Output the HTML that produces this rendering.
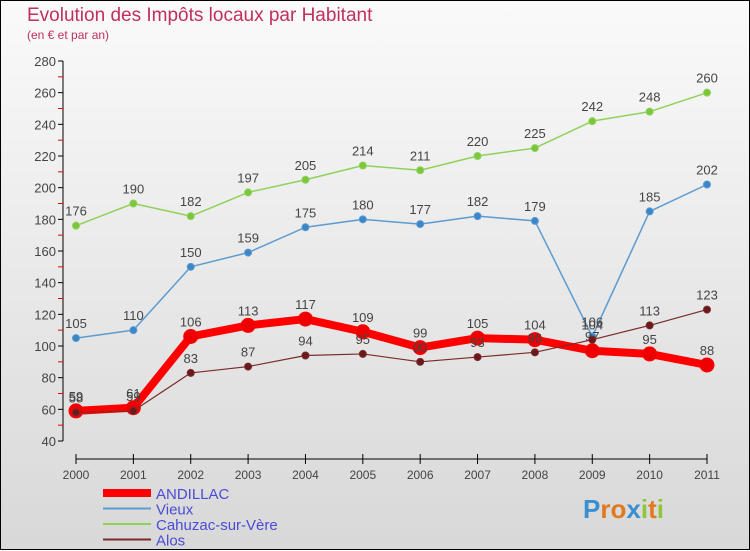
<!DOCTYPE html>
<html><head><meta charset="utf-8"><style>
body{margin:0;width:750px;height:550px;overflow:hidden;font-family:"Liberation Sans",sans-serif}
#frame{position:absolute;left:0;top:0;width:748px;height:548px;border:1px solid #000;background:linear-gradient(#fafafa,#d8d8d8)}
.t{position:absolute;color:#c0305a}
</style></head><body>
<div id="frame">
<div class="t" style="left:26px;top:4px;font-size:19px">Evolution des Impôts locaux par Habitant</div>
<div class="t" style="left:26px;top:27px;font-size:12px">(en € et par an)</div>
<svg id="c" width="750" height="550" style="position:absolute;left:0;top:0"></svg>
</div>
<script>
const years=[2000,2001,2002,2003,2004,2005,2006,2007,2008,2009,2010,2011];
const andillac=[59,61,106,113,117,109,99,105,104,97,95,88];
const vieux=[105,110,150,159,175,180,177,182,179,106,185,202];
const cahuzac=[176,190,182,197,205,214,211,220,225,242,248,260];
const alos=[58,59,83,87,94,95,90,93,96,104,113,123];
const yTicks=[40,60,80,100,120,140,160,180,200,220,240,260,280];
const seriesNames=["ANDILLAC","Vieux","Cahuzac-sur-Vère","Alos"];
const NS="http://www.w3.org/2000/svg",svg=document.getElementById('c');
const X=i=>75+i*(706-75)/(years.length-1);
const Y=v=>440-(v-40)*380/240;
function el(t,a,p){const e=document.createElementNS(NS,t);for(const k in a)e.setAttribute(k,a[k]);(p||svg).appendChild(e);return e;}
function tx(s,a){const e=el('text',a);e.textContent=s;return e;}
// y axis
let ax=el('line',{x1:62,y1:Y(280),x2:62,y2:Y(40),stroke:'#000'});

yTicks.forEach(v=>{el('line',{x1:57,x2:62,y1:Y(v),y2:Y(v),stroke:'#000'});
 if(v<280)el('line',{x1:57,x2:62,y1:Y(v+10),y2:Y(v+10),stroke:'#e00'});
 const t=tx(v,{x:55,y:Y(v)+5,'text-anchor':'end','font-size':13,fill:'#444'});
 });
// x axis
let xa=el('line',{x1:X(0),y1:458,x2:X(11),y2:458,stroke:'#000'});

years.forEach((yr,i)=>{el('line',{x1:X(i),x2:X(i),y1:453,y2:463,stroke:'#000'});
 const t=tx(yr,{x:X(i),y:478,'text-anchor':'middle','font-size':12,fill:'#444'});
 });
function series(d,col,w,r,pc,name){
 const g=el('g',{});
 el('polyline',{points:d.map((v,i)=>X(i)+','+Y(v)).join(' '),fill:'none',stroke:col,'stroke-width':w,'stroke-linejoin':'round'},g);
 d.forEach((v,i)=>{const c=el('circle',{cx:X(i),cy:Y(v),r:r,fill:pc,stroke:col,'stroke-width':1},g);
  
  const t=tx(v,{x:X(i),y:Y(v)-10,'text-anchor':'middle','font-size':13,fill:'#444'});
  });
}
series(cahuzac,'#8fd25a',1.5,3.5,'#7cc63c','series-cahuzac');
series(vieux,'#5b9bd0',1.5,3.5,'#3a86c8','series-vieux');
series(andillac,'#ff0000',8,7,'#ee0000','series-andillac');
series(alos,'#7a2a2a',1.2,3.5,'#6a1a1a','series-alos');
// legend
const lc=['#ff0000','#5b9bd0','#8fd25a','#7a2a2a'],lw=[8,2,2,2];
seriesNames.forEach((n,i)=>{const y=492+i*15.5;
 const l=el('line',{x1:102,x2:150,y1:y,y2:y,stroke:lc[i],'stroke-width':lw[i]});
 
 const t=tx(n,{x:155,y:y+6,'font-size':15,fill:'#4b4bd6'});
 });
const b=tx('',{x:582,y:517,'font-size':26,'font-weight':'bold'});
[['P','#3a8fd0'],['r','#e07a20'],['o','#e07a20'],['x','#3a8fd0'],['i','#8fc63c'],['t','#e07a20'],['i','#8fc63c']].forEach(([c,f])=>{const s=el('tspan',{fill:f},b);s.textContent=c;});
</script>
</body></html>
